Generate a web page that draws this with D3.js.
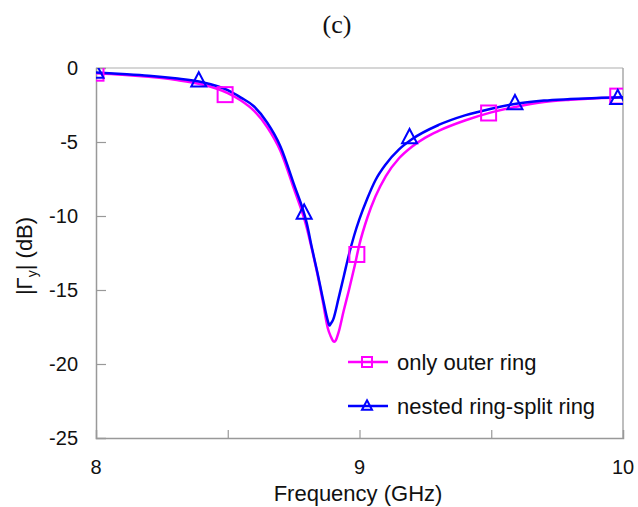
<!DOCTYPE html>
<html>
<head>
<meta charset="utf-8">
<script src="https://cdn.jsdelivr.net/npm/d3@7"></script>
<style>
  body { margin: 0; background: #fff; }
  text { font-family: Arial, "Liberation Sans", sans-serif; fill: #111; }
</style>
</head>
<body>
<script>
// frequency (GHz) samples of each curve
const freqOuter = [8.0, 8.1, 8.2, 8.3, 8.4, 8.5, 8.55, 8.6, 8.65, 8.7, 8.75, 8.8, 8.82, 8.84, 8.86, 8.88, 8.89, 8.9, 8.905, 8.91, 8.92, 8.94, 8.96, 8.98, 9.0, 9.03, 9.06, 9.1, 9.15, 9.2, 9.25, 9.3, 9.4, 9.5, 9.6, 9.7, 9.8, 9.9, 10.0];
const gammaOuter = [-0.35, -0.45, -0.6, -0.8, -1.1, -1.7, -2.2, -2.9, -4.0, -5.6, -8.1, -10.8, -12.3, -13.9, -15.7, -17.6, -18.1, -18.45, -18.5, -18.4, -17.9, -16.4, -15.0, -13.5, -11.9, -10.1, -8.7, -7.3, -6.1, -5.3, -4.7, -4.25, -3.55, -3.0, -2.6, -2.3, -2.15, -2.05, -2.0];

const freqNested = [8.0, 8.1, 8.2, 8.3, 8.4, 8.5, 8.55, 8.6, 8.65, 8.7, 8.75, 8.8, 8.82, 8.84, 8.86, 8.88, 8.886, 8.89, 8.9, 8.92, 8.94, 8.96, 8.98, 9.0, 9.03, 9.06, 9.1, 9.15, 9.2, 9.3, 9.4, 9.5, 9.6, 9.7, 9.8, 9.9, 10.0];
const gammaNested = [-0.3, -0.4, -0.52, -0.7, -0.95, -1.5, -2.0, -2.6, -3.7, -5.3, -7.8, -10.5, -12.2, -13.8, -15.5, -17.1, -17.4, -17.3, -17.0, -15.6, -14.1, -12.6, -11.3, -10.2, -8.8, -7.6, -6.5, -5.5, -4.8, -3.85, -3.2, -2.75, -2.4, -2.2, -2.1, -2.02, -1.98];

// marker positions
const markOuterF = [8.0, 8.49, 8.99, 9.49, 9.98];
const markOuterG = [-0.35, -1.8, -12.6, -3.04, -1.9];
const markNestedF = [8.0, 8.39, 8.79, 9.19, 9.59, 9.98];
const markNestedG = [-0.27, -0.86, -9.8, -4.7, -2.4, -2.05];

const xTicks = [8, 9, 10];
const xMinor = [8.5, 9, 9.5];
const yTicks = [0, -5, -10, -15, -20, -25];
const yInner = [-5, -10, -15, -20];
const seriesNames = ["only outer ring", "nested ring-split ring"];
const seriesColors = ["#ff00ff", "#0000ff"];

const W = 638, H = 507;
const pL = 96, pT = 68, pR = 623, pB = 438;

const svg = d3.select("body").append("svg")
  .attr("width", W).attr("height", H);

const x = d3.scaleLinear().domain([8, 10]).range([pL, pR]);
const y = d3.scaleLinear().domain([-25, 0]).range([pB, pT]);

svg.append("defs").append("clipPath").attr("id", "clip")
  .append("rect")
  .attr("x", pL).attr("y", pT)
  .attr("width", pR - pL).attr("height", pB - pT);

// frame
svg.append("line").attr("x1", pL).attr("x2", pR).attr("y1", pT).attr("y2", pT)
  .attr("stroke", "#c8c8c8").attr("stroke-width", 1.5);
svg.append("line").attr("x1", pR).attr("x2", pR).attr("y1", pT).attr("y2", pB)
  .attr("stroke", "#a8a8a8").attr("stroke-width", 1.5);

// axes
const yAxis = d3.axisLeft(y).tickValues(yInner).tickSize(-10).tickFormat("");
const gy = svg.append("g").attr("transform", `translate(${pL},0)`).call(yAxis);
const xAxis = d3.axisBottom(x).tickValues(xMinor).tickSize(-8).tickFormat("");
const gx = svg.append("g").attr("transform", `translate(0,${pB})`).call(xAxis);
[gx, gy].forEach(g => {
  g.select(".domain").attr("stroke", "#999").attr("stroke-width", 1.5);
  g.selectAll(".tick line").attr("stroke", "#999").attr("stroke-width", 1.2);
});

svg.append("g").selectAll("text").data(yTicks).join("text")
  .attr("x", 78).attr("y", d => y(d))
  .attr("text-anchor", "end").attr("dominant-baseline", "central")
  .style("font-size", "20px")
  .text(d => d);

svg.append("g").selectAll("text").data(xTicks).join("text")
  .attr("x", d => x(d)).attr("y", 467)
  .attr("text-anchor", "middle").attr("dominant-baseline", "central")
  .style("font-size", "20px")
  .text(d => d);

svg.append("text")
  .attr("x", 358).attr("y", 493)
  .attr("text-anchor", "middle").attr("dominant-baseline", "central")
  .style("font-size", "22px")
  .text("Frequency (GHz)");

const yt = svg.append("text")
  .attr("transform", "translate(32,256) rotate(-90)")
  .attr("text-anchor", "middle")
  .style("font-size", "22px");
yt.append("tspan").text("|Γ");
yt.append("tspan").attr("dy", 5).style("font-size", "14px").text("y");
yt.append("tspan").attr("dy", -5).text("| (dB)");

svg.append("text")
  .attr("x", 337).attr("y", 33)
  .attr("text-anchor", "middle")
  .style("font-family", "'Liberation Serif', 'Times New Roman', serif")
  .style("font-size", "26px")
  .text("(c)");

// curves
const line = d3.line()
  .x(d => x(d[0])).y(d => y(d[1]))
  .curve(d3.curveMonotoneX);

const plot = svg.append("g").attr("clip-path", "url(#clip)");

const series = [
  { f: freqOuter, g: gammaOuter, mf: markOuterF, mg: markOuterG, shape: "square" },
  { f: freqNested, g: gammaNested, mf: markNestedF, mg: markNestedG, shape: "triangle" }
];

function marker(g, shape, cx, cy, s, color) {
  if (shape == "square") {
    g.append("rect")
      .attr("x", cx - s / 2).attr("y", cy - s / 2)
      .attr("width", s).attr("height", s)
      .attr("fill", "none").attr("stroke", color).attr("stroke-width", 2);
  } else {
    const h = s * 0.95;
    g.append("path")
      .attr("d", `M${cx},${cy - h * 0.6}L${cx + s / 2},${cy + h * 0.4}L${cx - s / 2},${cy + h * 0.4}Z`)
      .attr("fill", "none").attr("stroke", color).attr("stroke-width", 2);
  }
}

series.forEach((s, i) => {
  const pts = s.f.map((f, j) => [f, s.g[j]]);
  plot.append("path")
    .attr("d", line(pts))
    .attr("fill", "none")
    .attr("stroke", seriesColors[i])
    .attr("stroke-width", 2.5);
});

series.forEach((s, i) => {
  s.mf.forEach((f, j) => marker(plot, s.shape, x(f), y(s.mg[j]), 15, seriesColors[i]));
});

// legend
const legend = svg.append("g");
seriesNames.forEach((name, i) => {
  const ly = 362 + i * 44;
  legend.append("line")
    .attr("x1", 348).attr("x2", 388).attr("y1", ly).attr("y2", ly)
    .attr("stroke", seriesColors[i]).attr("stroke-width", 2.5);
  marker(legend, series[i].shape, 367, ly, 10, seriesColors[i]);
  legend.append("text")
    .attr("x", 397).attr("y", ly)
    .attr("dominant-baseline", "central")
    .style("font-size", "22px")
    .text(name);
});
</script>
</body>
</html>
